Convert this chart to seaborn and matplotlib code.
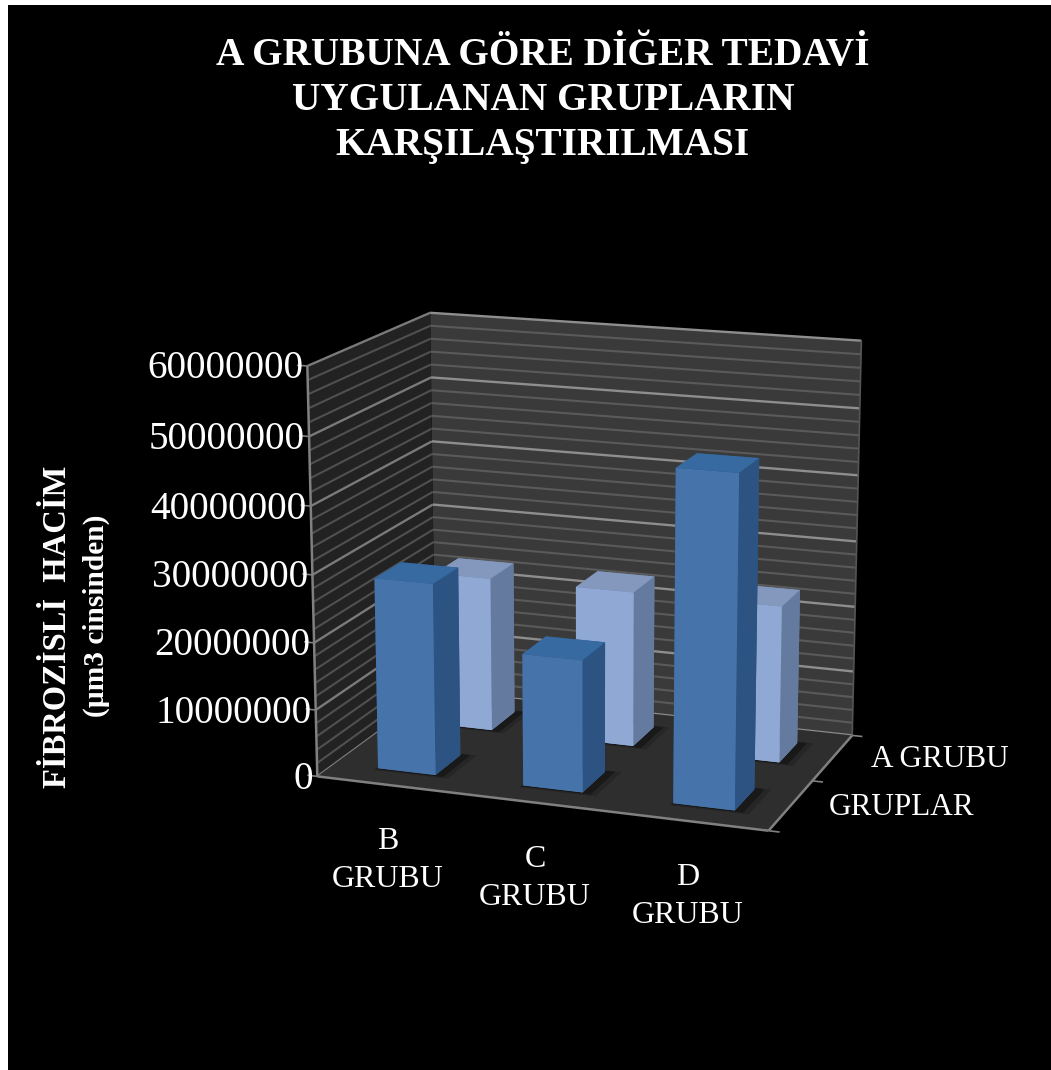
import numpy as np
import matplotlib
matplotlib.use("Agg")
import matplotlib.pyplot as plt
from matplotlib.patches import Rectangle
from matplotlib.transforms import IdentityTransform
from mpl_toolkits.mplot3d import proj3d
from mpl_toolkits.mplot3d.art3d import Poly3DCollection
import seaborn as sns

# Fibrosis volume per treatment group, compared against group A
groups = ["B\nGRUBU", "C\nGRUBU", "D\nGRUBU"]
rows = ["GRUPLAR", "A GRUBU"]
treated_volume = [28500000, 19500000, 48200000]
group_a_volume = [23600000, 23600000, 23600000]
major_ticks = [0, 10000000, 20000000, 30000000, 40000000, 50000000, 60000000]
minor_step = 2000000

title = "A GRUBUNA GÖRE DİĞER TEDAVİ\nUYGULANAN GRUPLARIN\nKARŞILAŞTIRILMASI"
ylabel_main = "FİBROZİSLİ  HACİM"
ylabel_sub = "(µm3 cinsinden)"

sns.set_theme(style="dark", rc={"axes.facecolor": "none", "figure.facecolor": "white"})
plt.rcParams["font.family"] = ["Liberation Serif", "DejaVu Serif"]

palette = sns.color_palette(["#4674AA", "#8FA8D4"])
side_colors = sns.color_palette(["#2C5382", "#647A9E"])
top_colors = sns.color_palette(["#366AA0", "#8398BC"])

WIDTH, HEIGHT = 1051, 1070
fig = plt.figure(figsize=(WIDTH / 100, HEIGHT / 100), dpi=100)
fig.add_artist(Rectangle((8, 0), WIDTH - 8, HEIGHT - 5, transform=IdentityTransform(),
                         facecolor="black", edgecolor="none", zorder=-5))

ax = fig.add_axes([0, 0, 1, 1], projection="3d")
ax.set_axis_off()
ax.patch.set_visible(False)
ax.computed_zorder = False
ax.set_xlim(0, 3, view_margin=0)
ax.set_ylim(0, 2, view_margin=0)
ax.set_zlim(0, major_ticks[-1], view_margin=0)
ax.view_init(elev=14.8161, azim=-70.2973)
ax.set_proj_type("persp", focal_length=0.8259)
ax.set_box_aspect((1.125, 0.7365, 1.0))

# Scale and place the square axes box so the plot cube sits where wanted
scale, offset_x, offset_y = 3659.18, 590.26, 512.18
x0, x1 = ax.viewLim.intervalx
y0, y1 = ax.viewLim.intervaly
side = scale * (x1 - x0)
ax.set_position([(offset_x + scale * x0) / WIDTH, (offset_y + scale * y0) / HEIGHT,
                 side / WIDTH, side / HEIGHT])

ZTOP = major_ticks[-1]


def wall(verts, color, z):
    ax.add_collection3d(Poly3DCollection([verts], facecolors=color, edgecolors="none", zorder=z))


def seg(xs, ys, zs, color, lw, z):
    ax.plot(xs, ys, zs, color=color, lw=lw, zorder=z, solid_capstyle="butt")


wall([(0, 2, 0), (3, 2, 0), (3, 2, ZTOP), (0, 2, ZTOP)], "#3A3A3A", 1)
wall([(0, 0, 0), (0, 2, 0), (0, 2, ZTOP), (0, 0, ZTOP)], "#222222", 1)

# Horizontal gridlines along both walls
for level in np.arange(0, ZTOP + 1, minor_step):
    is_major = level in major_ticks
    seg([0, 3], [2, 2], [level, level], "#8E8E8E" if is_major else "#5A5A5A", 1.7 if is_major else 1.5, 2)
    seg([0, 0], [0, 2], [level, level], "#7A7A7A" if is_major else "#505050", 1.7 if is_major else 1.5, 2)
wall([(0, 0, 0), (3, 0, 0), (3, 2, 0), (0, 2, 0)], "#2E2E2E", 2.5)

# Box outline and outward ticks
edge = "#808080"
seg([0, 0], [0, 0], [0, ZTOP], edge, 1.8, 3)
seg([0, 3], [0, 0], [0, 0], edge, 1.8, 3)
seg([3, 3], [0, 2], [0, 0], edge, 1.8, 3)
seg([3, 3], [2, 2], [0, ZTOP], "#555555", 1.2, 3)
for level in major_ticks:
    seg([-0.07, 0], [0, 0], [level, level], edge, 1.2, 3)
for row in range(len(rows) + 1):
    seg([3, 3.07], [row, row], [0, 0], edge, 1.2, 3)

bar_w, bar_d = 0.40, 0.43


def draw_bar(i, row, value, front, side_c, top, z):
    x = i + 0.5 - bar_w / 2
    y = row + 0.5 - bar_d / 2
    # soft contact shadow on the floor, two flat layers
    ax.bar3d(x - 0.01, y - 0.04, 0, bar_w + 0.11, bar_d + 0.07, 0, color="#262626",
             edgecolor="none", linewidth=0, shade=False, zorder=z)
    ax.bar3d(x, y - 0.02, 0, bar_w + 0.06, bar_d + 0.04, 0, color="#191919",
             edgecolor="none", linewidth=0, shade=False, zorder=z + 0.1)
    # faces: bottom, top, front, back, left, right
    ax.bar3d(x, y, 0, bar_w, bar_d, value,
             color=[front, top, front, side_c, side_c, side_c],
             edgecolor="none", linewidth=0, shade=False, zorder=z + 0.5)


for i, v in enumerate(group_a_volume):
    draw_bar(i, 1, v, palette[1], side_colors[1], top_colors[1], 5 + i)
for i, v in enumerate(treated_volume):
    draw_bar(i, 0, v, palette[0], side_colors[0], top_colors[0], 10 + i)


def project(x, y, z):
    u, v, _ = proj3d.proj_transform(x, y, z, ax.get_proj())
    return u, v


def label(x, y, z, text, dx, dy, **kw):
    ax.annotate(text, xy=project(x, y, z), xytext=(dx, dy), textcoords="offset pixels",
                color="white", annotation_clip=False, zorder=20, **kw)


for level in major_ticks:
    label(0, 0, level, str(level), -4, -3, ha="right", va="center", fontsize=28.2)
for i, name in enumerate(groups):
    label(i + 0.5, 0, 0, name, -2, -42, ha="center", va="top", fontsize=23, linespacing=1.4)
for r, name in enumerate(rows):
    label(3, r + 0.5, 0, name, 38, -2, ha="left", va="center", fontsize=22.4)

fig.text(543 / WIDTH, 1 - 37 / HEIGHT, title, color="white", ha="center", va="top",
         fontsize=28.3, fontweight="bold", linespacing=1.29)
fig.text(58 / WIDTH, 1 - 627 / HEIGHT, ylabel_main, color="white", rotation=90, ha="center",
         va="center", fontsize=23.5, fontweight="bold")
fig.text(96 / WIDTH, 1 - 616 / HEIGHT, ylabel_sub, color="white", rotation=90, ha="center",
         va="center", fontsize=21.2, fontweight="bold")

fig.savefig("out.png", dpi=100)
